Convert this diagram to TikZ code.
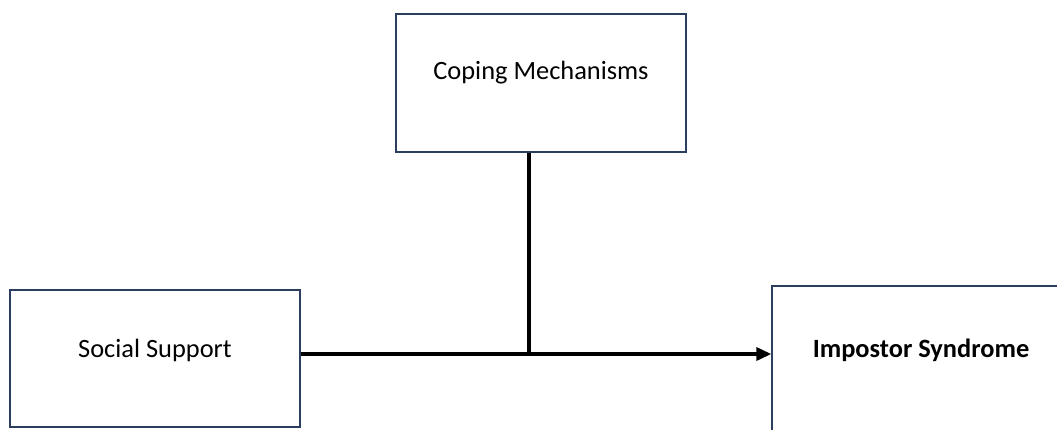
\documentclass[tikz,border=0pt]{standalone}
\usepackage{fontspec}
\setmainfont{Carlito}
\usetikzlibrary{arrows.meta}
\definecolor{boxline}{RGB}{44,62,95}
\begin{document}
\begin{tikzpicture}[x=1pt,y=-1pt,
  box/.style={draw=boxline,line width=1.4pt,fill=white,inner sep=0pt},
  lbl/.style={font=\fontsize{26.4}{30}\selectfont,text=black},
  conn/.style={line width=3.5pt,draw=black}]
\useasboundingbox (0,0) rectangle (1057,429);
\clip (0,0) rectangle (1057,429);
\node[box,minimum width=290pt,minimum height=138pt] (cm) at (541,83) {};
\node[box,minimum width=290pt,minimum height=137pt] (ss) at (155,358.5) {};
\node[box,minimum width=300pt,minimum height=160pt] (is) at (922,366) {};
\node[lbl] (cmt) at (541,73) {Coping Mechanisms};
\node[lbl] (sst) at (155,350) {Social Support};
\node[lbl,font=\fontsize{26.4}{30}\selectfont\bfseries] (ist) at (921,350) {Impostor Syndrome};
\coordinate (j) at (529,354);
\draw[conn,-{Triangle[length=15pt,width=13pt]}] (ss.east |- j) -- (is.west |- j);
\draw[conn] (cm.south -| j) -- ([yshift=1.75pt]j);
\end{tikzpicture}
\end{document}
